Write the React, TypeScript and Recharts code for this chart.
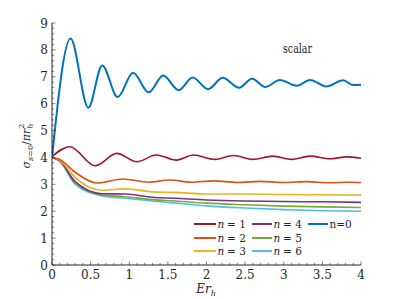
import React from "react";
import { LineChart, Line, XAxis, YAxis } from "recharts";

const n0X = [0, 0.24, 0.47, 0.65, 0.85, 1.05, 1.25, 1.44, 1.64, 1.82, 2.02, 2.21, 2.42, 2.59, 2.76, 2.95, 3.17, 3.34, 3.55, 3.77, 3.9, 4];
const n0Y = [4.0, 8.42, 5.85, 7.42, 6.25, 7.15, 6.42, 7.05, 6.5, 6.97, 6.54, 6.96, 6.59, 6.93, 6.62, 6.88, 6.67, 6.88, 6.64, 6.87, 6.69, 6.7];

const n1X = [0, 0.23, 0.56, 0.84, 1.1, 1.35, 1.61, 1.83, 2.11, 2.35, 2.6, 2.86, 3.1, 3.34, 3.6, 3.81, 4];
const n1Y = [4.03, 4.4, 3.69, 4.15, 3.84, 4.09, 3.9, 4.09, 3.93, 4.07, 3.93, 4.05, 3.93, 4.05, 3.95, 4.02, 3.97];

const n2X = [0, 0.1, 0.3, 0.58, 0.92, 1.25, 1.53, 1.8, 2.1, 2.4, 2.7, 3.0, 3.3, 3.6, 3.85, 4];
const n2Y = [4.0, 3.92, 3.45, 3.05, 3.2, 3.08, 3.16, 3.08, 3.13, 3.07, 3.11, 3.07, 3.1, 3.06, 3.08, 3.07];

const lowX = [0, 0.1, 0.3, 0.65, 0.95, 1.3, 1.6, 2.0, 2.5, 3.0, 3.5, 4];
const n3Y = [4.0, 3.9, 3.25, 2.78, 2.83, 2.72, 2.7, 2.64, 2.64, 2.62, 2.61, 2.6];
const n4Y = [4.0, 3.88, 3.1, 2.65, 2.64, 2.52, 2.48, 2.42, 2.38, 2.36, 2.35, 2.33];
const n5Y = [4.0, 3.87, 3.05, 2.6, 2.54, 2.43, 2.38, 2.3, 2.24, 2.19, 2.16, 2.14];
const n6Y = [4.0, 3.86, 3.0, 2.57, 2.48, 2.38, 2.3, 2.2, 2.12, 2.06, 2.02, 2.0];

const xMajor = [0, 0.5, 1, 1.5, 2, 2.5, 3, 3.5, 4];
const yMajor = [0, 1, 2, 3, 4, 5, 6, 7, 8, 9];
const xTicks = Array.from({ length: 41 }, (_, i) => +(i * 0.1).toFixed(1));
const yTicks = Array.from({ length: 46 }, (_, i) => +(i * 0.2).toFixed(1));

const zip = (xs: number[], ys: number[]) => xs.map((x, i) => ({ x, y: ys[i] }));

const series = [
  { key: "n1", label: "1", color: "#A2142F", data: zip(n1X, n1Y) },
  { key: "n2", label: "2", color: "#D95319", data: zip(n2X, n2Y) },
  { key: "n3", label: "3", color: "#EDB120", data: zip(lowX, n3Y) },
  { key: "n4", label: "4", color: "#7E2F8E", data: zip(lowX, n4Y) },
  { key: "n5", label: "5", color: "#77AC30", data: zip(lowX, n5Y) },
  { key: "n6", label: "6", color: "#4DBEEE", data: zip(lowX, n6Y) },
];
const blue = "#0072BD";

const axisColor = "#262626";
const serif = "'DejaVu Serif', serif";

const isMajor = (v: number, list: number[]) => list.some((m) => Math.abs(m - v) < 1e-6);

const BottomTick = (props: any) => {
  const { x, y, payload } = props;
  const major = isMajor(payload.value, xMajor);
  return (
    <g>
      <line x1={x} x2={x} y1={y} y2={y - (major ? 3.5 : 2)} stroke={axisColor} strokeWidth={0.6} />
      {major && (
        <text x={x} y={y + 14} textAnchor="middle" fontSize={12} style={{ fontFamily: serif }} fill={axisColor}>
          {payload.value}
        </text>
      )}
    </g>
  );
};

const TopTick = (props: any) => {
  const { x, y, payload } = props;
  const major = isMajor(payload.value, xMajor);
  return <line x1={x} x2={x} y1={y} y2={y + (major ? 3.5 : 2)} stroke={axisColor} strokeWidth={0.6} />;
};

const LeftTick = (props: any) => {
  const { x, y, payload } = props;
  const major = isMajor(payload.value, yMajor);
  return (
    <g>
      <line x1={x} x2={x + (major ? 3.5 : 2)} y1={y} y2={y} stroke={axisColor} strokeWidth={0.6} />
      {major && (
        <text x={x - 4} y={y + 4.5} textAnchor="end" fontSize={12} style={{ fontFamily: serif }} fill={axisColor}>
          {payload.value}
        </text>
      )}
    </g>
  );
};

const RightTick = (props: any) => {
  const { x, y, payload } = props;
  const major = isMajor(payload.value, yMajor);
  return <line x1={x} x2={x - (major ? 3.5 : 2)} y1={y} y2={y} stroke={axisColor} strokeWidth={0.6} />;
};

// legend slots: line start / end x per column, centre y per row
const legendCols = [
  [194, 216],
  [252, 272],
  [308, 328],
];
const legendRows = [224, 238, 251];

const LegendItem = ({ col, row, color, label }: { col: number; row: number; color: string; label: string | null }) => {
  const [x1, x2] = legendCols[col];
  const y = legendRows[row];
  return (
    <g>
      <line x1={x1} x2={x2} y1={y} y2={y} stroke={color} strokeWidth={2} />
      {label === null ? (
        <text x={x2 + 1.5} y={y + 4} fontSize={10.5} fill={axisColor}>
          n=0
        </text>
      ) : (
        <>
          <text x={x2 + 1.5} y={y + 4} fontSize={10.5} fontStyle="italic" fill={axisColor}>
            n
          </text>
          <text x={x2 + 11} y={y + 4} fontSize={10.5} fill={axisColor}>
            {"= " + label}
          </text>
        </>
      )}
    </g>
  );
};

export default function App() {
  return (
    <div style={{ position: "absolute", left: 0, top: 0, width: 399, height: 299, background: "#fff", fontFamily: serif }}>
      <LineChart width={399} height={299} margin={{ top: 23, right: 38, bottom: 14, left: 22 }}>
        <XAxis
          xAxisId={0}
          dataKey="x"
          type="number"
          domain={[0, 4]}
          ticks={xTicks}
          interval={0}
          tick={<BottomTick />}
          tickLine={false}
          tickSize={0}
          tickMargin={0}
          height={20}
          stroke={axisColor}
          allowDataOverflow
        />
        <XAxis
          xAxisId="top"
          orientation="top"
          dataKey="x"
          type="number"
          domain={[0, 4]}
          ticks={xTicks}
          interval={0}
          tick={<TopTick />}
          tickLine={false}
          tickSize={0}
          tickMargin={0}
          height={0}
          stroke={axisColor}
          allowDataOverflow
        />
        <YAxis
          yAxisId={0}
          type="number"
          domain={[0, 9]}
          ticks={yTicks}
          interval={0}
          tick={<LeftTick />}
          tickLine={false}
          tickSize={0}
          tickMargin={0}
          width={30}
          stroke={axisColor}
          allowDataOverflow
        />
        <YAxis
          yAxisId="right"
          orientation="right"
          type="number"
          domain={[0, 9]}
          ticks={yTicks}
          interval={0}
          tick={<RightTick />}
          tickLine={false}
          tickSize={0}
          tickMargin={0}
          width={0}
          stroke={axisColor}
          allowDataOverflow
        />
        {series
          .slice()
          .reverse()
          .map((s) => (
            <Line
              key={s.key}
              data={s.data}
              dataKey="y"
              type="monotone"
              stroke={s.color}
              strokeWidth={1.6}
              dot={false}
              isAnimationActive={false}
            />
          ))}
        <Line
          data={zip(n0X, n0Y)}
          dataKey="y"
          type="monotone"
          stroke={blue}
          strokeWidth={2}
          dot={false}
          isAnimationActive={false}
        />
      </LineChart>

      <svg width={399} height={299} style={{ position: "absolute", left: 0, top: 0, pointerEvents: "none", fontFamily: serif }}>
        <text transform="translate(30,146) rotate(-90)" textAnchor="middle" fontSize={11} fill={axisColor}>
          <tspan fontStyle="italic">σ</tspan>
          <tspan fontSize={8} dy={3}>
            <tspan fontStyle="italic">s</tspan>=0
          </tspan>
          <tspan dy={-3}>/</tspan>
          <tspan fontStyle="italic">πr</tspan>
          <tspan fontSize={8} fontStyle="italic" dy={3}>h</tspan>
          <tspan fontSize={8} dx={-5} dy={-9}>2</tspan>
        </text>
        <text x={206} y={293} textAnchor="middle" fontSize={12} fill={axisColor}>
          <tspan fontStyle="italic">Er</tspan>
          <tspan fontSize={8} fontStyle="italic" dy={3}>h</tspan>
        </text>
        <text x={283} y={53} fontSize={12} fill={axisColor} textLength={29} lengthAdjust="spacingAndGlyphs">
          scalar
        </text>
        {series.map((s, i) => (
          <LegendItem key={s.key} col={Math.floor(i / 3)} row={i % 3} color={s.color} label={s.label} />
        ))}
        <LegendItem col={2} row={0} color={blue} label={null} />
      </svg>
    </div>
  );
}
